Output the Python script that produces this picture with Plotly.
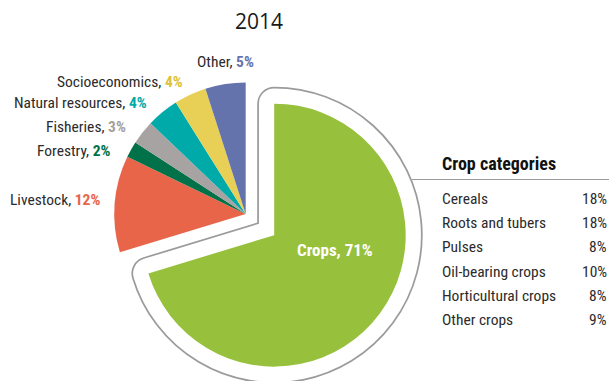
import plotly.graph_objects as go

# ---------------- data ----------------
sectors = ["Crops", "Livestock", "Forestry", "Fisheries",
           "Natural resources", "Socioeconomics", "Other"]
shares = [71, 12, 2, 3, 4, 4, 5]
sector_colors = ["#97c03d", "#e8654a", "#007148", "#a7a3a2",
                 "#00aaa9", "#e7d055", "#6573ad"]
pct_colors = ["#ffffff", "#e8654a", "#007148", "#a39f9e",
              "#00aaa9", "#dcc23a", "#6573ad"]

crop_categories = ["Cereals", "Roots and tubers", "Pulses",
                   "Oil-bearing crops", "Horticultural crops", "Other crops"]
crop_shares = [18, 18, 8, 10, 8, 9]

title_text = "2014"
table_title = "Crop categories"

# ---------------- layout constants ----------------
W, H = 609, 381
NARROW = "Roboto Condensed, Lato, Roboto, sans-serif"
TXT = "#2b2b2b"
GRAY = "#9d9a9a"
FS = 15.5

pull = [0.27] + [0] * (len(shares) - 1)
dom = dict(x=[0.1234, 0.6834], y=[0.0, 0.8766])


def px(x):
    return x / W


def py(y):
    return 1 - y / H


common = dict(labels=sectors, values=shares, sort=False, direction="clockwise",
              rotation=0, pull=pull, domain=dom, textinfo="none",
              hoverinfo="skip", showlegend=False)

fig = go.Figure()
# outer gray outline of the exploded slice
fig.add_trace(go.Pie(**common, marker=dict(
    colors=["white"] + ["rgba(0,0,0,0)"] * 6,
    line=dict(color=GRAY, width=[34] + [0] * 6))))
# white band inside the outline
fig.add_trace(go.Pie(**common, marker=dict(
    colors=["white"] + ["rgba(0,0,0,0)"] * 6,
    line=dict(color="white", width=[30.5] + [0] * 6))))
# actual slices
fig.add_trace(go.Pie(**common, marker=dict(
    colors=sector_colors, line=dict(color="white", width=0))))

ann = []
ann.append(dict(text=title_text, x=px(259), y=py(21), xref="paper", yref="paper",
                showarrow=False, xanchor="center", yanchor="middle",
                font=dict(family="Open Sans, Noto Sans, sans-serif", size=21, color="#1a1a1a")))

# slice labels (right aligned, left of the pie)
label_pos = {  # right edge x, centre y (pixels)
    "Other": (256, 62),
    "Socioeconomics": (185, 82),
    "Natural resources": (149, 103),
    "Fisheries": (128, 127),
    "Forestry": (113, 151),
    "Livestock": (102, 200),
}
for name, val, col in zip(sectors, shares, pct_colors):
    if name == "Crops":
        ann.append(dict(text=f"<b>{name}, {val}%</b>", x=px(335), y=py(250),
                        xref="paper", yref="paper", showarrow=False,
                        xanchor="center", yanchor="middle",
                        font=dict(family=NARROW, size=17, color="white")))
        continue
    x, y = label_pos[name]
    ann.append(dict(text=f"{name}, <b><span style='color:{col}'>{val}%</span></b>",
                    x=px(x), y=py(y), xref="paper", yref="paper", showarrow=False,
                    xanchor="right", yanchor="middle",
                    font=dict(family=NARROW, size=FS, color=TXT)))

# crop categories table
ann.append(dict(text=f"<b>{table_title}</b>", x=px(440), y=py(163), xref="paper", yref="paper",
                showarrow=False, xanchor="left", yanchor="middle",
                font=dict(family=NARROW, size=18, color="#111111")))
row_y0, row_dy = 199, 24.2
for i, (cat, s) in enumerate(zip(crop_categories, crop_shares)):
    y = row_y0 + i * row_dy
    ann.append(dict(text=cat, x=px(440), y=py(y), xref="paper", yref="paper",
                    showarrow=False, xanchor="left", yanchor="middle",
                    font=dict(family=NARROW, size=FS, color=TXT)))
    ann.append(dict(text=f"{s}%", x=px(609), y=py(y), xref="paper", yref="paper",
                    showarrow=False, xanchor="right", yanchor="middle",
                    font=dict(family=NARROW, size=FS, color=TXT)))

shapes = [dict(type="line", xref="paper", yref="paper",
               x0=px(412), x1=1, y0=py(179.5), y1=py(179.5),
               line=dict(color=GRAY, width=1.2))]

fig.update_layout(width=W, height=H, margin=dict(l=0, r=0, t=0, b=0),
                  paper_bgcolor="white", plot_bgcolor="white",
                  annotations=ann, shapes=shapes, showlegend=False)

fig.write_html("out.html")
